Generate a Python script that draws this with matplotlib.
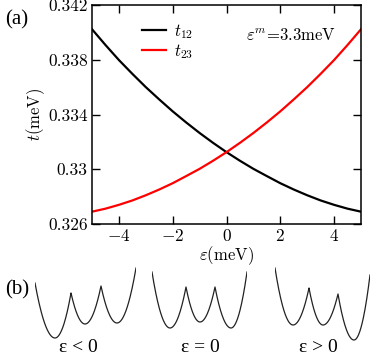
import numpy as np
import matplotlib
matplotlib.use('Agg')
from matplotlib import pyplot as plt

plt.rcParams['font.family'] = 'serif'
plt.rcParams['font.serif'] = ['cmr10']
plt.rcParams['mathtext.fontset'] = 'cm'
plt.rcParams['axes.formatter.use_mathtext'] = True

# (a) hopping amplitudes vs detuning
eps = [-5, -4.5, -4, -3.5, -3, -2.5, -2, -1.5, -1, -0.5, 0,
       0.5, 1, 1.5, 2, 2.5, 3, 3.5, 4, 4.5, 5]
t23 = [0.32690, 0.32712, 0.32740, 0.32772, 0.32810, 0.32852, 0.32898, 0.32950,
       0.33003, 0.33062, 0.33125, 0.33193, 0.33265, 0.33342, 0.33423, 0.33510,
       0.33600, 0.33697, 0.33798, 0.33908, 0.34023]
t12 = [0.34023, 0.33908, 0.33798, 0.33697, 0.33600, 0.33510, 0.33423, 0.33342,
       0.33265, 0.33193, 0.33125, 0.33062, 0.33003, 0.32950, 0.32898, 0.32852,
       0.32810, 0.32772, 0.32740, 0.32712, 0.32690]

x_ticks = [-4, -2, 0, 2, 4]
x_tick_labels = [r'$-4$', r'$-2$', r'$0$', r'$2$', r'$4$']
y_ticks = [0.326, 0.330, 0.334, 0.338, 0.342]
y_tick_labels = ['0.326', '0.33', '0.334', '0.338', '0.342']

# (b) sketch key points: (x, energy) of wall top, minimum, cusp, ... per potential
sketch_labels = ['ɛ < 0', 'ɛ = 0', 'ɛ > 0']
sketch_points = [
    [(0, 62), (20, 7), (36, 52), (50, 21), (66, 59), (82, 22), (101, 77)],
    [(0, 73), (18, 17), (34, 58), (48, 23), (63, 58), (79, 17), (95, 73)],
    [(0, 77), (18, 20), (34, 57), (48, 20), (63, 51), (79, 5), (95, 70)],
]
sketch_left = [35, 152, 275]
label_center = [78, 200, 318]


def well_curve(points, n=40):
    """Join half-parabolas through wall tops, minima and cusps."""
    xs, ys = [], []
    for i in range(1, len(points), 2):
        xl, yl = points[i - 1]
        xm, ym = points[i]
        xr, yr = points[i + 1]
        a = np.linspace(xl, xm, n)
        b = np.linspace(xm, xr, n)
        xs += list(a) + list(b)
        ys += list(ym + (yl - ym) * ((a - xm) / (xl - xm)) ** 2)
        ys += list(ym + (yr - ym) * ((b - xm) / (xr - xm)) ** 2)
    return xs, ys


W, H = 374, 360
fig = plt.figure(figsize=(W / 100, H / 100), dpi=100)
ax = fig.add_axes([92 / W, 1 - 224 / H, 269 / W, 219 / H])

ax.plot(eps, t12, color='black', lw=1.6, label=r'$t_{12}$')
ax.plot(eps, t23, color='red', lw=1.6, label=r'$t_{23}$')
ax.set_xlim(-5, 5)
ax.set_ylim(0.326, 0.342)
ax.set_xticks(x_ticks)
ax.set_xticklabels(x_tick_labels)
ax.set_yticks(y_ticks)
ax.set_yticklabels(y_tick_labels)
ax.tick_params(direction='in', length=6, width=1, labelsize=12.5,
               top=True, right=True, pad=3)
for s in ax.spines.values():
    s.set_linewidth(1.1)
ax.set_xlabel(r'$\varepsilon$(meV)', fontsize=12, labelpad=0)
ax.set_ylabel(r'$t$(meV)', fontsize=12, labelpad=1)
ax.legend(loc='upper left', bbox_to_anchor=(0.13, 0.99), frameon=False,
          fontsize=12, handlelength=1.45, handletextpad=0.5, labelspacing=0.05)
ax.text(0.573, 0.863, r'$\varepsilon^m$=3.3meV', transform=ax.transAxes,
        fontsize=12, va='center', ha='left')

fig.text(5 / W, 1 - 20 / H, '(a)', family='Liberation Serif', fontsize=15,
         va='center', ha='left')
fig.text(5 / W, 1 - 290 / H, '(b)', family='Liberation Serif', fontsize=15,
         va='center', ha='left')

for pts, x0, xc, lab in zip(sketch_points, sketch_left, label_center, sketch_labels):
    w = pts[-1][0]
    sax = fig.add_axes([x0 / W, 15 / H, w / W, 80 / H])
    xs, ys = well_curve(pts)
    sax.plot(xs, ys, color='#222222', lw=0.9)
    sax.set_xlim(0, w)
    sax.set_ylim(0, 80)
    sax.axis('off')
    fig.text(xc / W, 1 - 347 / H, lab, family=['Liberation Serif', 'DejaVu Serif'],
             fontsize=14, ha='center', va='center')

fig.savefig('out.png', dpi=100)
